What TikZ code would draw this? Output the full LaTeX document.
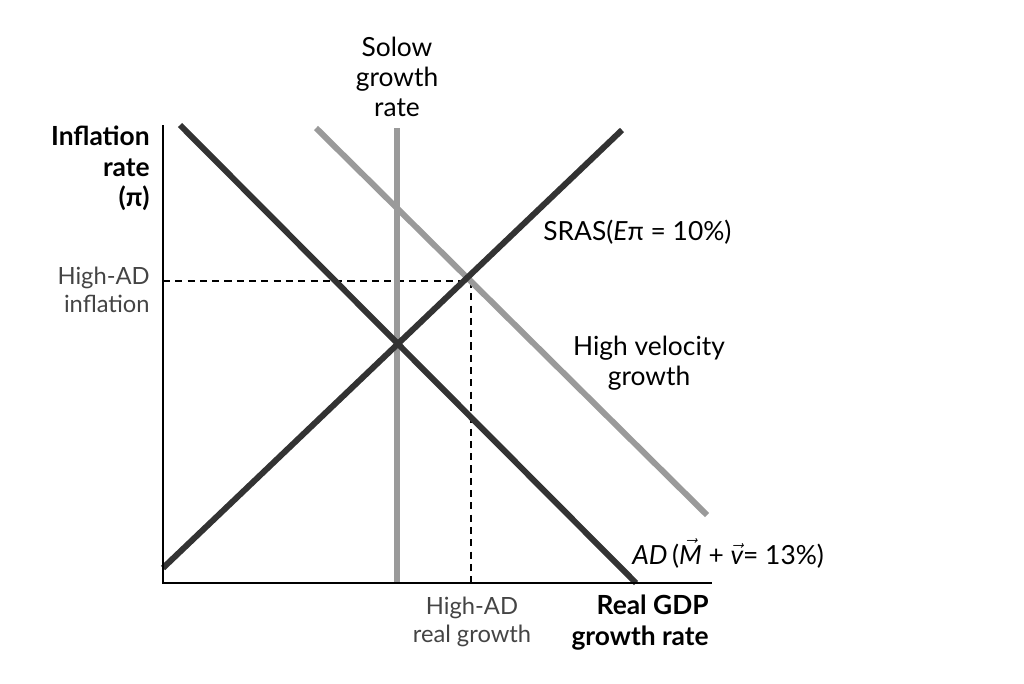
\documentclass[tikz,border=0pt]{standalone}
\usepackage{fontspec}
\setmainfont{Lato}
\definecolor{dark}{HTML}{333333}
\definecolor{lgray}{HTML}{9A9A9A}
\definecolor{txtgray}{HTML}{444444}
\begin{document}
\begin{tikzpicture}[x=0.02cm,y=-0.02cm,
  curve/.style={line width=3.4pt,line cap=butt},
  axis/.style={line width=0.9pt,black},
  guide/.style={line width=0.7pt,black,dash pattern=on 4pt off 3pt},
  lbl/.style={font=\fontsize{15}{17.2}\selectfont,text=black,inner sep=0pt},
  bl/.style={font=\bfseries\fontsize{15}{17.2}\selectfont,text=black,inner sep=0pt},
  gl/.style={font=\fontsize{13.5}{16}\selectfont,text=txtgray,inner sep=0pt}]
\useasboundingbox (0,0) rectangle (1024,683);
% coordinates
\coordinate (O) at (163,583);
\coordinate (ytop) at (163,125);
\coordinate (xend) at (712,583);
\coordinate (sol1) at (397,128);
\coordinate (sol2) at (397,583);
\coordinate (ad1) at (180,125);
\coordinate (ad2) at (636,583);
\coordinate (sr1) at (163,568);
\coordinate (sr2) at (622,130);
\coordinate (hv1) at (316,128);
\coordinate (hv2) at (707,515);
\coordinate (E) at (471,281);
\coordinate (Ey) at (163,281);
\coordinate (Ex) at (471,583);
% guides
\draw[guide] (Ey) -- (E);
\draw[guide] (E) -- (Ex);
% curves
\draw[curve,lgray] (sol1) -- (sol2);
\draw[curve,lgray] (hv1) -- (hv2);
\draw[curve,dark] (ad1) -- (ad2);
\draw[curve,dark] (sr1) -- (sr2);
% axes
\draw[axis] (ytop) -- (O) -- (xend);
% labels
\node[bl,align=right,anchor=north east] (ylab) at (150,126) {Inflation\\rate\\(π)};
\node[gl,align=right,anchor=north east] (hai) at (150,267) {High-AD\\inflation};
\node[lbl,align=center,anchor=south] (solow) at (397,117) {Solow\\growth\\rate};
\node[lbl,anchor=west] (sras) at (543,232) {SRAS(\textit{E}π = 10\%)};
\node[lbl,align=center] (hv) at (649,363) {High velocity\\growth};
\node[lbl,anchor=west] (ad) at (632,553) {\textit{AD}\,($\vec{\textit{M}}$ + $\vec{\textit{v}}$= 13\%)};
\node[gl,align=center,anchor=north] (har) at (472,597) {High-AD\\real growth};
\node[bl,align=right,anchor=north east] (xlab) at (709,595) {Real GDP\\growth rate};
\end{tikzpicture}
\end{document}
